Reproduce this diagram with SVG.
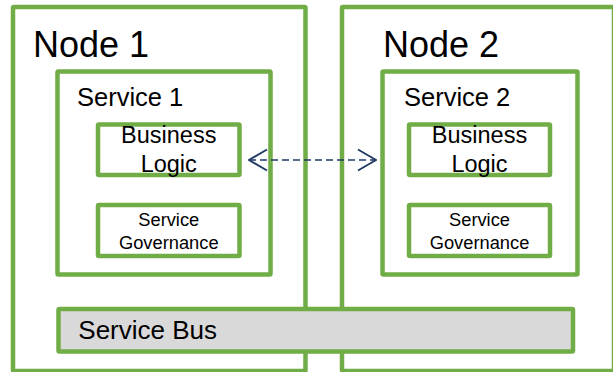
<svg xmlns="http://www.w3.org/2000/svg" width="613" height="372" viewBox="0 0 613 372">
<style>
.box{fill:#ffffff;stroke:#70ad47;stroke-width:4.5}
.bus{fill:#d9d9d9;stroke:#70ad47;stroke-width:4.5}
text{font-family:"Liberation Sans",Arial,sans-serif;fill:#000000}
.conn{fill:none;stroke:#203864;stroke-width:1.6}
</style>
<defs>
<marker id="open" viewBox="0 0 20 24" refX="19" refY="12" markerWidth="20" markerHeight="24" markerUnits="userSpaceOnUse" orient="auto-start-reverse">
<path d="M1,1.5 L19,12 L1,22.5" fill="none" stroke="#203864" stroke-width="1.8"/>
</marker>
</defs>
<rect width="613" height="372" fill="#ffffff"/>
<g id="node1">
<rect class="box" x="13" y="7" width="292.5" height="364" rx="1"/>
<text x="33" y="57" font-size="36">Node 1</text>
</g>
<g id="node2">
<rect class="box" x="342" y="7" width="272" height="364" rx="1"/>
<text x="383" y="57" font-size="36">Node 2</text>
</g>
<g id="service1">
<rect class="box" x="57.5" y="71.5" width="213" height="203" rx="1"/>
<text x="77" y="106" font-size="25.5">Service 1</text>
</g>
<g id="service2">
<rect class="box" x="382.5" y="71.5" width="195" height="203" rx="1"/>
<text x="404" y="106" font-size="25.5">Service 2</text>
</g>
<g id="logic1">
<rect class="box" x="98" y="124.5" width="141.5" height="50.5" rx="1"/>
<text x="168.75" y="143.3" font-size="23.5" text-anchor="middle">Business</text>
<text x="168.75" y="172.3" font-size="23.5" text-anchor="middle">Logic</text>
</g>
<g id="logic2">
<rect class="box" x="409" y="124.5" width="141" height="50.5" rx="1"/>
<text x="479.5" y="143.3" font-size="23.5" text-anchor="middle">Business</text>
<text x="479.5" y="172.3" font-size="23.5" text-anchor="middle">Logic</text>
</g>
<g id="gov1">
<rect class="box" x="98" y="205" width="141.5" height="51" rx="1"/>
<text x="168.75" y="225.7" font-size="18.3" text-anchor="middle">Service</text>
<text x="168.75" y="248.5" font-size="18.3" text-anchor="middle">Governance</text>
</g>
<g id="gov2">
<rect class="box" x="409" y="205" width="141" height="51" rx="1"/>
<text x="479.5" y="225.7" font-size="18.3" text-anchor="middle">Service</text>
<text x="479.5" y="248.5" font-size="18.3" text-anchor="middle">Governance</text>
</g>
<g id="bus">
<rect class="bus" x="58.5" y="309" width="514.5" height="42.5" rx="1"/>
<text x="78.3" y="339.3" font-size="26">Service Bus</text>
</g>
<g id="connectors">
<path class="conn" d="M249,160 L376,160" stroke-dasharray="7 4" marker-start="url(#open)" marker-end="url(#open)"/>
</g>
</svg>
